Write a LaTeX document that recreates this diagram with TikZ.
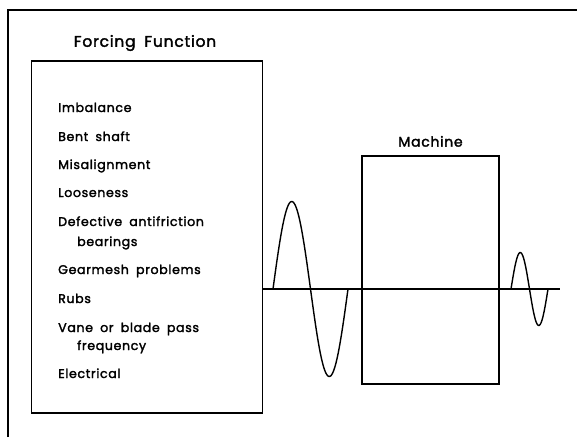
\documentclass[tikz,border=0pt]{standalone}
\usepackage{fontspec}
\newfontfamily\diagfont{Poppins}[LetterSpace=5, FakeBold=2, WordSpace=1.8]
\usetikzlibrary{positioning}
\tikzset{
    frameline/.style={line width=2.6pt},
    boxline/.style={line width=1.4pt},
    causetext/.style={anchor=base west, font=\diagfont\fontsize{12.6}{13}\selectfont, inner sep=0pt},
}
\begin{document}
\begin{tikzpicture}[x=1pt, y=-1pt]
    \useasboundingbox (0,0) rectangle (577,437);

    % Khung ngoài (chỉ cạnh trên và cạnh trái)
    \draw[frameline] (8,437) -- (8,10) -- (577,10);

    % Hộp nguồn kích thích
    \node[boxline, draw, minimum width=231pt, minimum height=352pt, inner sep=0pt] (forcing) at (147,237) {};
    \node[font=\diagfont\fontsize{15.5}{17}\selectfont] (forcingtitle) at (145,43) {Forcing Function};

    % Danh sách nguyên nhân
    \node[causetext] (c1) at (58,112) {Imbalance};
    \node[causetext] (c2) at (58,141) {Bent shaft};
    \node[causetext] (c3) at (58,169) {Misalignment};
    \node[causetext] (c4) at (58,197) {Looseness};
    \node[causetext] (c5) at (58,226) {Defective antifriction};
    \node[causetext] (c5b) at (77,246) {bearings};
    \node[causetext] (c6) at (58,274) {Gearmesh problems};
    \node[causetext] (c7) at (58,303) {Rubs};
    \node[causetext] (c8) at (58,332) {Vane or blade pass};
    \node[causetext] (c8b) at (77,350) {frequency};
    \node[causetext] (c9) at (58,378) {Electrical};

    % Hộp máy
    \node[boxline, draw, minimum width=137pt, minimum height=228pt, inner sep=0pt] (machine) at (430.5,270) {};
    \node[font=\diagfont\fontsize{14}{15}\selectfont, above=5pt of machine.north] (machinelabel) {Machine};

    % Trục ngang
    \coordinate (shaftend) at (560,289);
    \draw[boxline] (forcing.east |- shaftend) -- (shaftend);

    % Sóng kích thích (biên độ lớn)
    \draw[boxline, samples=100, domain=273:348] plot (\x, {289-87.5*sin((\x-273)/75*360)});

    % Sóng đáp ứng (biên độ nhỏ)
    \draw[boxline, samples=60, domain=511:548] plot (\x, {289-36.5*sin((\x-511)/37*360)});
\end{tikzpicture}
\end{document}
